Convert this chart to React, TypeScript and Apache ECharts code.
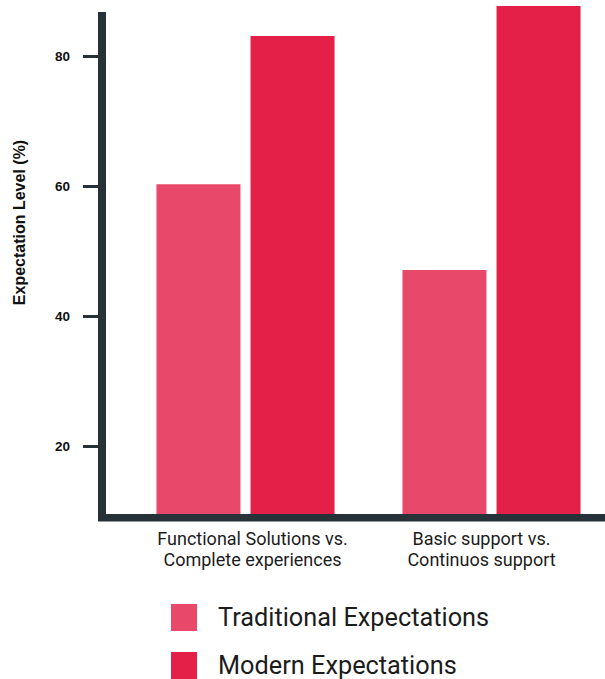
import React, { useEffect, useRef } from "react";
import * as echarts from "echarts";

const categories = ["Functional Solutions vs.\nComplete experiences", "Basic support vs.\nContinuos support"];
const traditional = [60.3, 47.1];
const modern = [83.1, 87.7];
const yTicks = [20, 40, 60, 80];
const seriesNames = ["Traditional Expectations", "Modern Expectations"];
const colors = ["#E8496A", "#E41F48"];
const axisColor = "#263238";

export default function App() {
  const ref = useRef<HTMLDivElement>(null);
  useEffect(() => {
    if (!ref.current) return;
    const chart = echarts.init(ref.current, null, { renderer: "svg" });
    const legendText = {
      fontFamily: "Roboto",
      fontSize: 25.3,
      color: "#1c1c1c",
      padding: [3, 0, 0, 16],
    };
    const labelBase = { fontFamily: "Roboto", fontSize: 18, lineHeight: 21, color: "#1c1c1c", align: "center" };
    chart.setOption({
      animation: false,
      grid: { left: 122.5, width: 492, top: 6, bottom: 165, containLabel: false },
      xAxis: {
        type: "category",
        data: categories,
        axisLine: { show: false },
        axisTick: { show: false },
        axisLabel: {
          interval: 0,
          hideOverlap: false,
          margin: 14,
          fontFamily: "Roboto",
          fontSize: 18,
          lineHeight: 21,
          color: "#1c1c1c",
          formatter: (value: string, index: number) => {
            const tag = index === 0 ? "a" : "b";
            return value
              .split("\n")
              .map((l) => `{${tag}|${l}}`)
              .join("\n");
          },
          rich: {
            a: { ...labelBase, padding: [0, 0, 0, 14] },
            b: { ...labelBase, padding: [0, 20, 0, 0] },
          },
        },
      },
      yAxis: {
        type: "value",
        min: 9.6,
        max: 87.7,
        offset: 20.5,
        splitLine: { show: false },
        axisLine: { show: false },
        axisTick: { show: true, customValues: yTicks, length: 19, lineStyle: { color: axisColor, width: 3 } },
        axisLabel: {
          customValues: yTicks,
          margin: 32,
          fontFamily: "Liberation Sans, Arial, sans-serif",
          fontWeight: "bold",
          fontSize: 13.5,
          color: "#111",
        },
      },
      legend: [
        {
          orient: "vertical",
          left: 171,
          top: 604,
          padding: 0,
          icon: "rect",
          itemWidth: 26,
          itemHeight: 27,
          data: [seriesNames[0]],
          textStyle: legendText,
        },
        {
          orient: "vertical",
          left: 171,
          top: 652,
          padding: 0,
          icon: "rect",
          itemWidth: 26,
          itemHeight: 27,
          data: [seriesNames[1]],
          textStyle: legendText,
        },
      ],
      graphic: [
        {
          type: "rect",
          shape: { x: 98, y: 12, width: 8, height: 506 },
          style: { fill: axisColor },
          z: 10,
        },
        {
          type: "rect",
          shape: { x: 98, y: 514, width: 520, height: 7.5 },
          style: { fill: axisColor },
          z: 10,
        },
        {
          type: "text",
          x: 19,
          y: 222.5,
          rotation: Math.PI / 2,
          style: {
            text: "Expectation Level (%)",
            fontFamily: "Liberation Sans, Arial, sans-serif",
            fontWeight: "bold",
            fontSize: 16,
            fill: "#111",
            align: "center",
            verticalAlign: "middle",
          },
        },
      ],
      series: [
        {
          name: seriesNames[0],
          type: "bar",
          data: traditional,
          barWidth: 84,
          barGap: "12%",
          itemStyle: { color: colors[0] },
        },
        {
          name: seriesNames[1],
          type: "bar",
          data: modern,
          barWidth: 84,
          barGap: "12%",
          itemStyle: { color: colors[1] },
        },
      ],
    });
    return () => chart.dispose();
  }, []);
  return (
    <div style={{ width: 605, height: 679, position: "absolute", left: 0, top: 0, overflow: "hidden" }}>
      <div ref={ref} style={{ width: 620, height: 679 }} />
    </div>
  );
}
